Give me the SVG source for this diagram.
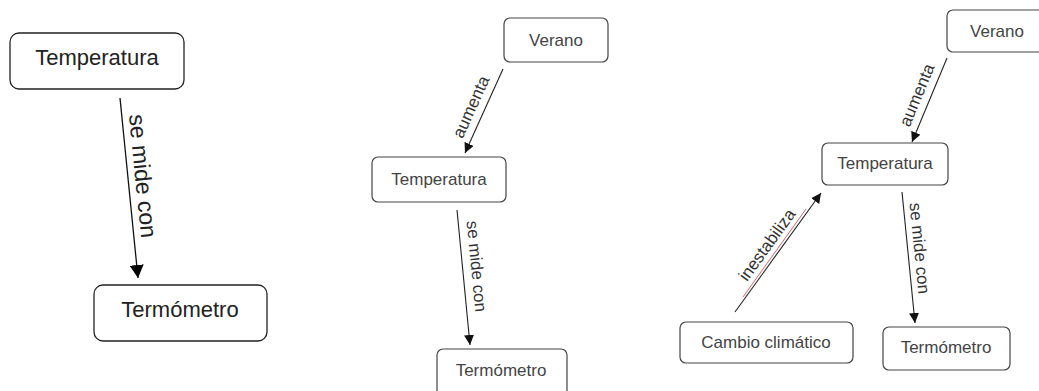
<svg xmlns="http://www.w3.org/2000/svg" width="1039" height="391" viewBox="0 0 1039 391">
<style>
.box1{fill:#fff;stroke:#222;stroke-width:1.3}
.box2{fill:#fff;stroke:#444;stroke-width:1.2}
.t1{font-family:"Liberation Sans",Arial,sans-serif;font-size:22px;fill:#222;text-anchor:middle}
.t2{font-family:"Liberation Sans",Arial,sans-serif;font-size:17px;fill:#444;text-anchor:middle}
.l1{font-family:"Liberation Sans",Arial,sans-serif;font-size:23px;fill:#222;text-anchor:middle}
.l2{font-family:"Liberation Sans",Arial,sans-serif;font-size:17px;fill:#333;text-anchor:middle}
.c1{stroke:#111;stroke-width:1.3;fill:none}
.c2{stroke:#222;stroke-width:1.1;fill:none}
</style>
<defs>
<marker id="a1" markerUnits="userSpaceOnUse" markerWidth="14" markerHeight="14" refX="13" refY="7" orient="auto"><path d="M0,0 L13,7 L0,14 Z" fill="#000"/></marker>
<marker id="a2" markerUnits="userSpaceOnUse" markerWidth="11" markerHeight="10" refX="10" refY="5" orient="auto"><path d="M0,0 L10,5 L0,10 Z" fill="#111"/></marker>
</defs>
<rect width="1039" height="391" fill="#fff"/>
<g id="connectors">
<line class="c1" x1="120" y1="98" x2="138" y2="278" marker-end="url(#a1)"/>
<text class="l1" transform="translate(143,176) rotate(84.3)" y="8">se mide con</text>
<line class="c2" x1="503" y1="69" x2="465" y2="153" marker-end="url(#a2)"/>
<text class="l2" transform="translate(478,110) rotate(-65.7)" y="-2">aumenta</text>
<line class="c2" x1="457" y1="210" x2="470" y2="345" marker-end="url(#a2)"/>
<text class="l2" transform="translate(469,267) rotate(84.5)" y="-2">se mide con</text>
<line class="c2" x1="947" y1="58" x2="912" y2="142" marker-end="url(#a2)"/>
<text class="l2" transform="translate(924,98) rotate(-67.4)" y="-2">aumenta</text>
<line class="c2" x1="735" y1="312" x2="821" y2="193" marker-end="url(#a2)"/>
<line x1="743" y1="297" x2="806" y2="209" stroke="#d04050" stroke-width="1" opacity="0.8"/>
<text class="l2" transform="translate(774,250) rotate(-54.1)" y="-3">inestabiliza</text>
<line class="c2" x1="902" y1="192" x2="915" y2="323" marker-end="url(#a2)"/>
<text class="l2" transform="translate(912,249) rotate(84.3)" y="-2">se mide con</text>
</g>
<g id="p1-temperatura"><rect class="box1" x="10" y="33" width="174" height="56" rx="9"/><text class="t1" x="97" y="65">Temperatura</text></g>
<g id="p1-termometro"><rect class="box1" x="94" y="285" width="173" height="56" rx="9"/><text class="t1" x="180" y="317">Termómetro</text></g>
<g id="p2-verano"><rect class="box2" x="504" y="18" width="104" height="44" rx="6"/><text class="t2" x="556" y="46">Verano</text></g>
<g id="p2-temperatura"><rect class="box2" x="372" y="157" width="134" height="45" rx="6"/><text class="t2" x="439" y="185">Temperatura</text></g>
<g id="p2-termometro"><rect class="box2" x="437" y="349" width="130" height="50" rx="6"/><text class="t2" x="501" y="376">Termómetro</text></g>
<g id="p3-verano"><rect class="box2" x="947" y="10" width="100" height="42" rx="6"/><text class="t2" x="997" y="37">Verano</text></g>
<g id="p3-temperatura"><rect class="box2" x="822" y="143" width="126" height="42" rx="6"/><text class="t2" x="885" y="169">Temperatura</text></g>
<g id="p3-cambio"><rect class="box2" x="680" y="322" width="173" height="41" rx="6"/><text class="t2" x="766" y="348">Cambio climático</text></g>
<g id="p3-termometro"><rect class="box2" x="883" y="327" width="127" height="43" rx="6"/><text class="t2" x="946" y="353">Termómetro</text></g>
</svg>
